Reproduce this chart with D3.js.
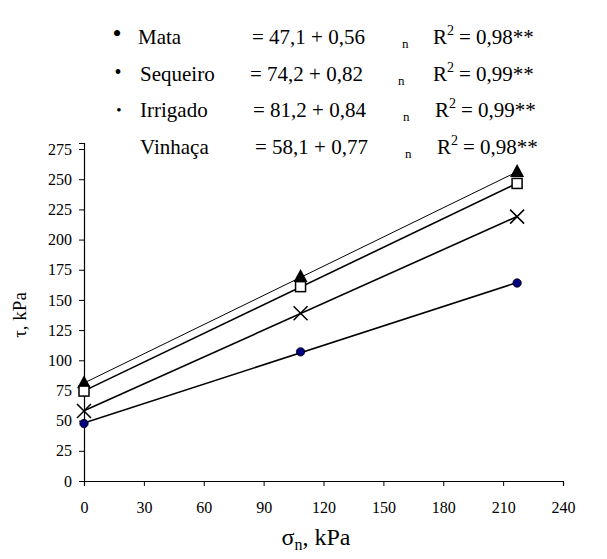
<!DOCTYPE html>
<html>
<head>
<meta charset="utf-8">
<script src="https://cdn.jsdelivr.net/npm/d3@7"></script>
</head>
<body style="margin:0; background:#fff">
<svg id="chart" width="607" height="559"></svg>
<script>
const sigma = [0, 108.5, 217];
const mata = [47.6, 107, 164];
const sequeiro = [74.5, 161, 246.5];
const irrigado = [81, 169, 256];
const vinhaca = [58, 139, 219];

const xTicks = [0, 30, 60, 90, 120, 150, 180, 210, 240];
const yTicks = [0, 25, 50, 75, 100, 125, 150, 175, 200, 225, 250, 275];

const legendNames = ["Mata", "Sequeiro", "Irrigado", "Vinhaça"];
const legendEq = ["= 47,1 + 0,56", "= 74,2 + 0,82", "= 81,2 + 0,84", "= 58,1 + 0,77"];
const legendR2 = ["0,98**", "0,99**", "0,99**", "0,98**"];

const FONT = "Liberation Serif";
const svg = d3.select("#chart");

function label(px, py, size){
  return svg.append("text").attr("x", px).attr("y", py)
    .attr("font-family", FONT).attr("font-size", size).attr("fill", "#000");
}

const x = d3.scaleLinear().domain([0, 240]).range([84, 563]);
const y = d3.scaleLinear().domain([0, 280]).range([481, 143]);

// axes
const xAxis = svg.append("g").attr("transform", "translate(0," + y(0) + ")")
  .call(d3.axisBottom(x).tickValues(xTicks).tickSize(5).tickPadding(16));
const yAxis = svg.append("g").attr("transform", "translate(" + x(0) + ",0)")
  .call(d3.axisLeft(y).tickValues(yTicks).tickSize(5).tickPadding(7));

[xAxis, yAxis].forEach(a => {
  a.select(".domain").attr("stroke", "#000").attr("stroke-width", 1.2);
  a.selectAll(".tick line").attr("stroke", "#000");
  a.selectAll(".tick text").attr("fill", "#000")
    .attr("font-family", FONT).attr("font-size", 16);
});

// trend lines (least squares of the read points)
function fit(ys){
  const mx = d3.mean(sigma), my = d3.mean(ys);
  let num = 0, den = 0;
  sigma.forEach((s, i) => { num += (s - mx) * (ys[i] - my); den += (s - mx) * (s - mx); });
  const b = num / den;
  return [my - b * mx, b];
}

const series = [
  {vals: irrigado, w: 1, marker: "triangle"},
  {vals: sequeiro, w: 1.6, marker: "square"},
  {vals: vinhaca, w: 1.6, marker: "cross"},
  {vals: mata, w: 1.6, marker: "dot"}
];

series.forEach(s => {
  const [a, b] = fit(s.vals);
  const s0 = sigma[0], s1 = sigma[sigma.length - 1];
  svg.append("line")
    .attr("x1", x(s0)).attr("y1", y(a + b * s0))
    .attr("x2", x(s1)).attr("y2", y(a + b * s1))
    .attr("stroke", "#000").attr("stroke-width", s.w);
});

series.forEach(s => {
  const g = svg.append("g");
  sigma.forEach((sv, i) => {
    const cx = x(sv), cy = y(s.vals[i]);
    if (s.marker === "triangle") {
      g.append("path").attr("d", `M${cx},${cy - 8} L${cx + 7},${cy + 5} L${cx - 7},${cy + 5} Z`).attr("fill", "#000");
    } else if (s.marker === "square") {
      g.append("rect").attr("x", cx - 5).attr("y", cy - 5).attr("width", 10).attr("height", 10)
        .attr("fill", "#fff").attr("stroke", "#000").attr("stroke-width", 1.5);
    } else if (s.marker === "cross") {
      g.append("path").attr("d", `M${cx - 7},${cy - 7} L${cx + 7},${cy + 7} M${cx + 7},${cy - 7} L${cx - 7},${cy + 7}`)
        .attr("stroke", "#000").attr("stroke-width", 1.5);
    } else {
      g.append("circle").attr("cx", cx).attr("cy", cy).attr("r", 4.2)
        .attr("fill", "#000080").attr("stroke", "#000").attr("stroke-width", 0.8);
    }
  });
});

// legend
const rowY = [44, 81, 117, 154];
const bulletSize = [26, 20, 15, 0];
const nameX = [138, 140, 140, 140];
const eqX = [252, 250, 253, 255];
const nX = [402, 398, 403, 405];
const rX = [433, 433, 435, 437];

legendNames.forEach((name, i) => {
  const by = rowY[i];
  if (bulletSize[i] > 0) {
    label(120 - (3 - i), by - 2, bulletSize[i]).attr("text-anchor", "middle").text("•");
  }
  label(nameX[i], by, 21).text(name);
  label(eqX[i], by, 21).text(legendEq[i]);
  label(nX[i], by + 4, 13).text("n");
  const r = label(rX[i], by, 21);
  r.append("tspan").text("R");
  r.append("tspan").attr("dy", -9).attr("font-size", 14).text("2");
  r.append("tspan").attr("dy", 9).attr("dx", 5).text("= " + legendR2[i]);
});

// axis titles
label(0, 0, 19).attr("transform", "translate(26,315) rotate(-90)")
  .attr("text-anchor", "middle").text("τ, kPa");

const xt = label(316, 545, 24).attr("text-anchor", "middle");
xt.append("tspan").text("σ");
xt.append("tspan").attr("dy", 5).attr("font-size", 16).text("n");
xt.append("tspan").attr("dy", -5).text(", kPa");
</script>
</body>
</html>
